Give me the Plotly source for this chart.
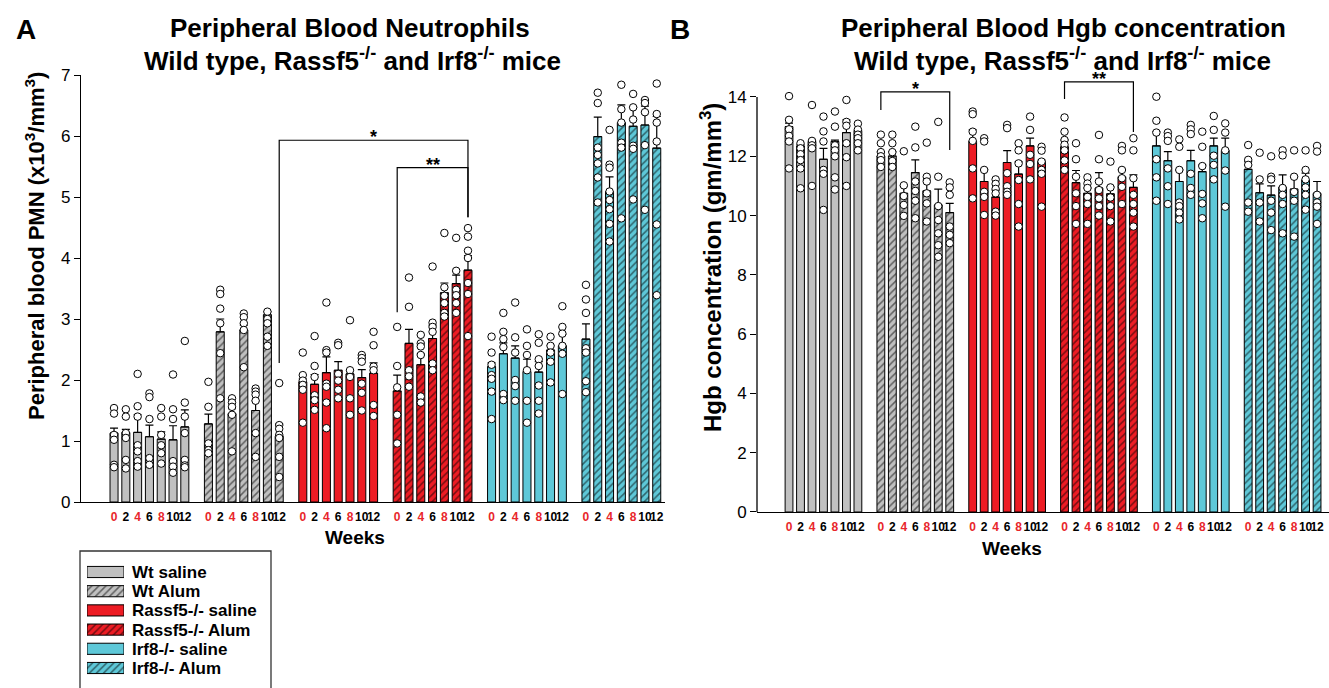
import plotly.graph_objects as go

W, H = 1329, 688

# ---------------- data ----------------
weeks = [0, 2, 4, 6, 8, 10, 12]
highlight_weeks = [0, 4, 8]          # week labels printed in red
groups = ["Wt saline", "Wt Alum", "Rassf5-/- saline", "Rassf5-/- Alum",
          "Irf8-/- saline", "Irf8-/- Alum"]

# Panel A: peripheral blood PMN (x10^3/mm^3), means / SEM / individual mice
pmn_wt_saline = [1.13, 1.14, 1.14, 1.07, 1.03, 1.02, 1.23]
pmn_wt_saline_sem = [0.08, 0.05, 0.29, 0.19, 0.12, 0.23, 0.28]
pmn_wt_saline_pts = [[1.54, 1.45, 1.10, 1.02, 0.61, 0.57],
                     [1.52, 1.40, 1.13, 1.05, 0.69, 0.55],
                     [2.10, 1.57, 1.40, 0.93, 0.83, 0.67, 0.58],
                     [1.78, 1.72, 1.36, 0.72, 0.61],
                     [1.54, 1.40, 1.10, 0.93, 0.80, 0.63],
                     [2.09, 1.52, 1.36, 0.67, 0.58, 0.48],
                     [2.64, 1.63, 1.40, 1.13, 0.69, 0.60, 0.57]]
pmn_wt_alum = [1.28, 2.79, 1.45, 2.82, 1.50, 3.07, 1.08]
pmn_wt_alum_sem = [0.16, 0.21, 0.08, 0.08, 0.16, 0.05, 0.20]
pmn_wt_alum_pts = [[1.97, 1.56, 0.96, 0.85, 0.80],
                   [3.48, 3.41, 3.17, 2.93, 2.44, 1.70],
                   [1.70, 1.63, 1.56, 1.43, 0.83],
                   [3.09, 3.03, 2.93, 2.82, 2.21],
                   [1.86, 1.81, 1.76, 1.66, 1.13, 0.74],
                   [3.12, 3.00, 2.93, 2.71, 2.56],
                   [1.95, 1.26, 1.20, 1.10, 1.05, 0.74, 0.41]]
pmn_ras_saline = [1.97, 1.93, 2.12, 2.16, 2.10, 2.04, 2.11]
pmn_ras_saline_sem = [0.05, 0.16, 0.26, 0.14, 0.05, 0.13, 0.17]
pmn_ras_saline_pts = [[2.45, 2.08, 1.99, 1.92, 1.84, 1.30],
                      [2.72, 2.23, 2.05, 1.75, 1.67, 1.51],
                      [3.27, 2.49, 2.45, 1.94, 1.89, 1.63, 1.21],
                      [2.61, 2.57, 2.10, 1.99, 1.84, 1.70],
                      [2.98, 2.16, 2.05, 1.70, 1.43],
                      [2.41, 2.36, 2.30, 1.94, 1.79, 1.50],
                      [2.79, 2.57, 2.22, 2.16, 1.59, 1.41]]
pmn_ras_alum = [1.82, 2.60, 2.25, 2.68, 3.43, 3.58, 3.80]
pmn_ras_alum_sem = [0.26, 0.23, 0.18, 0.22, 0.16, 0.14, 0.24]
pmn_ras_alum_pts = [[2.87, 2.23, 1.88, 1.43, 0.96],
                    [3.68, 3.20, 2.16, 2.06, 1.89],
                    [2.74, 2.60, 2.55, 2.41, 1.73, 1.63],
                    [3.86, 2.94, 2.87, 2.79, 2.27, 2.16],
                    [4.41, 3.52, 3.38, 3.26, 3.10, 3.04],
                    [4.33, 3.79, 3.48, 3.39, 3.26, 3.10],
                    [4.49, 4.35, 4.12, 4.00, 3.59, 3.41, 2.72]]
pmn_irf_saline = [2.22, 2.43, 2.36, 2.14, 2.13, 2.49, 2.56]
pmn_irf_saline_sem = [0.06, 0.18, 0.20, 0.20, 0.17, 0.08, 0.19]
pmn_irf_saline_pts = [[2.71, 2.45, 2.25, 2.08, 2.02, 1.81, 1.36],
                      [3.10, 2.79, 2.67, 2.54, 1.77, 1.67],
                      [3.27, 2.70, 2.45, 2.00, 1.90, 1.66],
                      [2.83, 2.56, 2.41, 2.16, 1.66, 1.30],
                      [2.75, 2.61, 2.34, 2.23, 1.91, 1.66, 1.45],
                      [2.71, 2.56, 2.45, 2.30, 1.96],
                      [3.21, 2.87, 2.76, 2.56, 2.43, 1.77]]
pmn_irf_alum = [2.67, 5.99, 5.09, 6.22, 6.16, 6.18, 5.80]
pmn_irf_alum_sem = [0.25, 0.32, 0.24, 0.29, 0.31, 0.31, 0.52]
pmn_irf_alum_pts = [[3.56, 3.32, 3.10, 2.52, 2.45, 1.98, 1.80],
                    [6.71, 6.54, 5.81, 5.69, 5.55, 5.32, 4.91],
                    [6.10, 5.53, 5.48, 5.09, 4.95, 4.80, 4.56, 4.27],
                    [6.84, 6.44, 6.22, 5.89, 5.81, 4.65],
                    [6.69, 6.47, 6.27, 5.84, 5.79, 4.96],
                    [6.59, 6.54, 6.39, 5.85, 4.79],
                    [6.86, 6.36, 6.22, 5.91, 4.55, 3.39]]

# Panel B: Hgb concentration (gm/mm^3)
hgb_wt_saline = [13.00, 12.35, 12.50, 11.90, 12.50, 12.80, 12.87]
hgb_wt_saline_sem = [0.12, 0.05, 0.05, 0.37, 0.05, 0.43, 0.05]
hgb_wt_saline_pts = [[14.03, 13.23, 12.91, 12.69, 12.50, 11.59],
                     [12.44, 12.27, 12.07, 11.87, 11.59, 10.92],
                     [13.73, 12.52, 12.37, 12.27, 11.00],
                     [13.34, 12.84, 12.50, 11.54, 11.41, 10.19],
                     [13.51, 13.00, 12.37, 12.20, 12.00, 11.29, 10.88],
                     [13.90, 13.16, 13.03, 12.44, 11.97, 11.00],
                     [13.10, 12.90, 12.73, 12.61, 12.44, 12.20]]
hgb_wt_alum = [12.01, 12.01, 10.75, 11.45, 10.83, 10.36, 10.10]
hgb_wt_alum_sem = [0.15, 0.15, 0.25, 0.43, 0.37, 0.53, 0.31]
hgb_wt_alum_pts = [[12.73, 12.44, 12.14, 12.00, 11.87, 11.64],
                   [12.73, 12.44, 12.14, 11.84, 11.64],
                   [12.17, 11.02, 10.66, 10.36, 9.99],
                   [13.00, 12.30, 11.15, 10.83, 10.50, 9.91],
                   [12.46, 11.31, 11.15, 10.75, 10.41, 9.80],
                   [13.16, 11.31, 10.32, 9.85, 9.40, 9.00, 8.61],
                   [11.12, 10.95, 10.70, 9.63, 9.35, 9.07]]
hgb_ras_saline = [12.50, 11.15, 10.62, 11.79, 11.40, 12.35, 11.82]
hgb_ras_saline_sem = [0.39, 0.41, 0.24, 0.40, 0.41, 0.26, 0.05]
hgb_ras_saline_pts = [[13.51, 13.42, 12.83, 12.52, 11.59, 10.58],
                      [12.61, 12.50, 11.54, 10.80, 10.63, 10.02],
                      [11.22, 11.07, 10.90, 10.75, 10.13, 10.00],
                      [13.06, 12.95, 11.43, 10.99, 10.80, 10.70],
                      [12.44, 12.20, 11.76, 11.20, 10.39, 9.63],
                      [13.34, 12.89, 12.05, 11.74, 11.22],
                      [12.32, 12.19, 11.82, 11.54, 11.41, 10.30]]
hgb_ras_alum = [12.32, 11.11, 10.75, 10.93, 10.73, 11.31, 10.95]
hgb_ras_alum_sem = [0.23, 0.41, 0.18, 0.52, 0.24, 0.25, 0.42]
hgb_ras_alum_pts = [[13.31, 12.83, 12.55, 12.39, 12.20, 11.86, 11.54],
                    [12.44, 11.90, 11.31, 10.75, 10.32, 9.72],
                    [11.29, 11.08, 10.93, 10.63, 10.39, 9.72],
                    [12.72, 11.90, 11.15, 10.86, 10.58, 10.32, 10.00],
                    [11.82, 10.95, 10.61, 10.32, 9.80],
                    [12.35, 12.20, 11.54, 11.26, 10.97, 10.39],
                    [12.61, 12.20, 11.26, 10.70, 10.39, 10.10, 9.63]]
hgb_irf_saline = [12.35, 11.85, 11.15, 11.85, 11.48, 12.35, 12.19]
hgb_irf_saline_sem = [0.48, 0.31, 0.39, 0.35, 0.23, 0.26, 0.42]
hgb_irf_saline_pts = [[14.01, 13.20, 12.80, 11.90, 11.29, 10.50],
                      [12.80, 12.68, 12.52, 11.59, 10.99, 10.39],
                      [12.57, 12.32, 11.54, 10.44, 10.32, 10.10, 9.87],
                      [13.06, 12.91, 12.75, 11.41, 10.93, 10.70],
                      [12.83, 12.32, 11.67, 10.73, 10.41, 9.91],
                      [13.36, 12.89, 12.02, 11.71, 11.22],
                      [13.11, 12.80, 12.20, 11.52, 10.30]]
hgb_irf_alum = [11.56, 10.77, 10.69, 10.95, 10.89, 11.20, 10.75]
hgb_irf_alum_sem = [0.26, 0.30, 0.31, 0.42, 0.42, 0.23, 0.40]
hgb_irf_alum_pts = [[12.38, 11.88, 11.71, 10.44, 10.13],
                    [12.12, 11.22, 10.44, 9.80],
                    [12.00, 11.31, 11.22, 10.50, 10.10, 9.51],
                    [12.20, 12.03, 10.93, 10.70, 10.39, 9.40],
                    [12.20, 11.31, 10.80, 10.50, 9.29],
                    [12.20, 11.54, 11.22, 10.95, 10.70, 10.20],
                    [12.35, 12.16, 10.70, 10.44, 10.30, 9.72]]

pmn_means = [pmn_wt_saline, pmn_wt_alum, pmn_ras_saline, pmn_ras_alum, pmn_irf_saline, pmn_irf_alum]
pmn_sems = [pmn_wt_saline_sem, pmn_wt_alum_sem, pmn_ras_saline_sem, pmn_ras_alum_sem,
            pmn_irf_saline_sem, pmn_irf_alum_sem]
pmn_pts = [pmn_wt_saline_pts, pmn_wt_alum_pts, pmn_ras_saline_pts, pmn_ras_alum_pts,
           pmn_irf_saline_pts, pmn_irf_alum_pts]
hgb_means = [hgb_wt_saline, hgb_wt_alum, hgb_ras_saline, hgb_ras_alum, hgb_irf_saline, hgb_irf_alum]
hgb_sems = [hgb_wt_saline_sem, hgb_wt_alum_sem, hgb_ras_saline_sem, hgb_ras_alum_sem,
            hgb_irf_saline_sem, hgb_irf_alum_sem]
hgb_pts = [hgb_wt_saline_pts, hgb_wt_alum_pts, hgb_ras_saline_pts, hgb_ras_alum_pts,
           hgb_irf_saline_pts, hgb_irf_alum_pts]

# significance brackets: (group_a, week_a, group_b, week_b, label, top, left_end, right_end)
pmn_brackets = [(1, 12, 3, 12, "*", 5.93, 2.28, 4.67),
                (3, 0, 3, 12, "**", 5.48, 3.11, 4.67)]
hgb_brackets = [(1, 0, 1, 12, "*", 14.17, 13.56, 12.21),
                (3, 0, 3, 12, "**", 14.51, 13.93, 12.82)]

# ---------------- styles ----------------
fills = ["#C0C0C0", "#C0C0C0", "#ED1C24", "#ED1C24", "#5EC8D8", "#5EC8D8"]
hatched = [False, True, False, True, False, True]
RED = "#E8262B"
FONT = "Liberation Sans, Arial, sans-serif"
NARROW = "Liberation Sans Narrow, Arial Narrow, Liberation Sans, Arial, sans-serif"
SLOTS_PER_GROUP = 8


def xpos(g, w):
    return g * SLOTS_PER_GROUP + weeks.index(w)


def px(x):
    return x / W


def py(y):
    return 1 - y / H


def bar_marker(g):
    m = dict(color=fills[g], line=dict(color="black", width=1))
    if hatched[g]:
        m["pattern"] = dict(shape="/", fgcolor="black", bgcolor=fills[g],
                            size=5, solidity=0.3, fillmode="overlay")
    return m


fig = go.Figure()

for means, sems, pts, xa, ya in [(pmn_means, pmn_sems, pmn_pts, "x", "y"),
                                 (hgb_means, hgb_sems, hgb_pts, "x2", "y2")]:
    for g, name in enumerate(groups):
        xs = [xpos(g, w) for w in weeks]
        fig.add_trace(go.Bar(
            x=xs, y=means[g], width=0.68, name=name, marker=bar_marker(g),
            xaxis=xa, yaxis=ya, showlegend=False,
            error_y=dict(type="data", array=sems[g], arrayminus=[0] * len(weeks),
                         symmetric=False, color="black", thickness=1.2, width=4)))
    for g in range(len(groups)):
        dx, dy = [], []
        for i, w in enumerate(weeks):
            for v in pts[g][i]:
                dx.append(xpos(g, w))
                dy.append(v)
        fig.add_trace(go.Scatter(
            x=dx, y=dy, mode="markers", xaxis=xa, yaxis=ya, showlegend=False,
            cliponaxis=False,
            marker=dict(size=7.5, color="white", line=dict(color="black", width=1))))

# legend swatches (a small subplot of horizontal bars)
for g, name in enumerate(groups):
    fig.add_trace(go.Bar(x=[1], y=[g], base=0, orientation="h", width=0.58, name=name,
                         marker=bar_marker(g), xaxis="x3", yaxis="y3", showlegend=False))

# tick labels
tickvals = [xpos(g, w) for g in range(len(groups)) for w in weeks]
ticktext = [f'<b><span style="color:{RED if w in highlight_weeks else "black"}">{w}</span></b>'
            for g in range(len(groups)) for w in weeks]

xcommon = dict(showline=True, linecolor="black", linewidth=1.3, ticks="", showgrid=False,
               zeroline=False, tickvals=tickvals, ticktext=ticktext, tickangle=0,
               ticklabelstandoff=3, automargin=False,
               tickfont=dict(family=NARROW, size=12, color="black"))
ycommon = dict(ticks="outside", ticklen=6, tickwidth=1.3, tickcolor="black", showgrid=False,
               zeroline=False, automargin=False,
               tickfont=dict(family=FONT, size=17, color="black"))

fig.update_layout(
    width=W, height=H, margin=dict(l=0, r=0, t=0, b=0, pad=0, autoexpand=False),
    paper_bgcolor="white", plot_bgcolor="white", barmode="overlay", showlegend=False,
    font=dict(family=FONT, color="black"),
    xaxis=dict(domain=[px(81), px(665)], range=[-2.8, 46.7], anchor="y", **xcommon),
    yaxis=dict(domain=[py(502), py(75)], range=[0, 7], tickvals=list(range(0, 8)),
               showline=True, linecolor="black", linewidth=1.3, anchor="x", **ycommon),
    xaxis2=dict(domain=[px(757), 1.0], range=[-2.79, 47.04], anchor="y2", **xcommon),
    yaxis2=dict(domain=[py(512), py(512 - 14.8 * 415 / 14)], range=[0, 14.8],
                tickvals=list(range(0, 15, 2)), showline=False, anchor="x2", **ycommon),
    xaxis3=dict(domain=[px(87), px(124)], range=[0, 1], visible=False, anchor="y3",
                automargin=False),
    yaxis3=dict(domain=[py(677.6), py(562.4)], range=[5.5, -0.5], anchor="x3", side="right",
                tickvals=list(range(len(groups))), ticktext=[f"<b>{n}</b>" for n in groups],
                ticks="", showline=False, showgrid=False, zeroline=False, automargin=False,
                ticklabelstandoff=7, tickfont=dict(family=FONT, size=17, color="black")),
)

# legend frame
fig.add_shape(type="rect", xref="paper", yref="paper", x0=px(80), x1=px(271),
              y0=py(710), y1=py(551), line=dict(color="#333333", width=1.3))

# y axis line of panel B (range extended above 14 to host the brackets)
fig.add_shape(type="line", xref="paper", yref="y2", x0=px(757), x1=px(757), y0=0, y1=14,
              line=dict(color="black", width=1.3))

# brackets
for brackets, xr, yr in [(pmn_brackets, "x", "y"), (hgb_brackets, "x2", "y2")]:
    for ga, wa, gb, wb, lab, top, le, re in brackets:
        xa_, xb_ = xpos(ga, wa), xpos(gb, wb)
        fig.add_shape(type="path", xref=xr, yref=yr,
                      path=f"M {xa_},{le} L {xa_},{top} L {xb_},{top} L {xb_},{re}",
                      line=dict(color="black", width=1.2))
        fig.add_annotation(x=(xa_ + xb_) / 2, y=top, xref=xr, yref=yr, text=f"<b>{lab}</b>",
                           showarrow=False, yanchor="bottom", yshift=-9,
                           font=dict(family=FONT, size=18, color="black"))


# texts
def ann(x, y, text, size, angle=0):
    fig.add_annotation(x=px(x), y=py(y), xref="paper", yref="paper", text=text,
                       showarrow=False, textangle=angle, xanchor="center", yanchor="middle",
                       font=dict(family=FONT, size=size, color="black"))


ann(26, 30, "<b>A</b>", 28)
ann(680, 30, "<b>B</b>", 28)
ann(350, 28, "<b>Peripheral Blood Neutrophils</b>", 26)
ann(352, 59, "<b>Wild type, Rassf5<sup>-/-</sup> and Irf8<sup>-/-</sup> mice</b>", 26)
ann(1063, 28, "<b>Peripheral Blood Hgb concentration</b>", 26)
ann(1062, 59, "<b>Wild type, Rassf5<sup>-/-</sup> and Irf8<sup>-/-</sup> mice</b>", 26)
ann(35, 246, "<b>Peripheral blood PMN (x10<sup>3</sup>/mm<sup>3</sup>)</b>", 22, -90)
ann(711, 268, "<b>Hgb concentration (gm/mm<sup>3</sup>)</b>", 24, -90)
ann(355, 537, "<b>Weeks</b>", 19)
ann(1012, 548, "<b>Weeks</b>", 19)

fig.write_html("out.html", config={"displayModeBar": False},
               post_script="document.body.style.margin='0';")
